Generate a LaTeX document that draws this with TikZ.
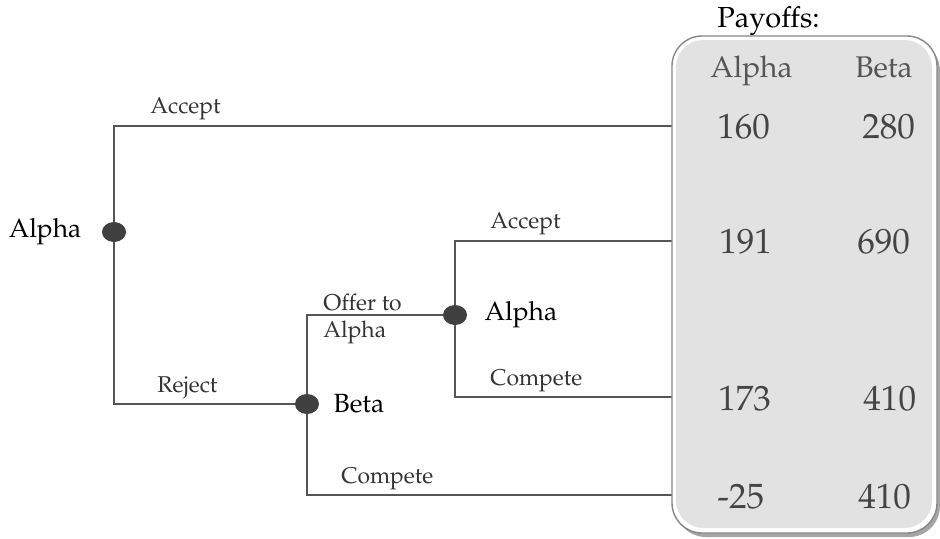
\documentclass[tikz,border=0pt]{standalone}
\usepackage[T1]{fontenc}
\renewcommand{\rmdefault}{ppl}
\usetikzlibrary{shapes.geometric, positioning, backgrounds}
\definecolor{nodegray}{RGB}{64,64,64}
\definecolor{linegray}{RGB}{85,85,85}
\definecolor{boxfill}{RGB}{226,226,226}
\definecolor{boxedge}{RGB}{135,135,135}
\definecolor{numgray}{RGB}{68,68,68}
\definecolor{headgray}{RGB}{85,85,85}

\begin{document}
\begin{tikzpicture}[
    x=0.02cm, y=-0.02cm,
    decision/.style={ellipse, fill=nodegray, inner sep=0pt,
        minimum width=0.48cm, minimum height=0.4cm},
    branch/.style={draw=linegray, line width=0.8pt},
    player/.style={inner sep=0pt, font=\fontsize{15}{17}\selectfont},
    move/.style={inner sep=0pt, anchor=base west, text=black!80,
        font=\fontsize{13}{15}\selectfont},
    colhead/.style={inner sep=0pt, anchor=base west, text=headgray,
        font=\fontsize{17}{20}\selectfont},
    payoff/.style={inner sep=0pt, anchor=base west, text=numgray,
        font=\fontsize{20}{23}\selectfont},
]
\useasboundingbox (0,0) rectangle (940,538);

% === PAYOFF PANEL ===
\fill[black!35, rounded corners=0.62cm] (675,40) rectangle (940,537);
\draw[boxedge, fill=white, line width=0.8pt, rounded corners=0.6cm]
    (672,36) rectangle (937,533);
\fill[boxfill, rounded corners=0.55cm] (676,40) rectangle (932,528);

\node[inner sep=0pt, anchor=base west, font=\fontsize{16.5}{19}\selectfont]
    (payofftitle) at (717,27) {Payoffs:};
\node[colhead] (headalpha) at (710,77) {Alpha};
\node[colhead] (headbeta) at (855,77) {Beta};

\node[payoff] (a1) at (717,138) {160};
\node[payoff] (b1) at (862,138) {280};
\node[payoff] (a2) at (719,253) {191};
\node[payoff] (b2) at (857,253) {690};
\node[payoff] (a3) at (718,410) {173};
\node[payoff] (b3) at (863,410) {410};
\node[payoff] (a4) at (717,508) {-25};
\node[payoff] (b4) at (858,508) {410};

% leaf ends on the panel edge
\coordinate (end1) at (672,126);
\coordinate (end2) at (672,241);
\coordinate (end3) at (672,397);
\coordinate (end4) at (672,495);

% === DECISION NODES ===
\node[decision] (root) at (114,232) {};
\node[decision] (beta) at (307,404) {};
\node[decision] (alpha2) at (455,315) {};

\node[player, left=0.4cm of root] (rootlabel) {Alpha};
\node[player, right=0.28cm of beta] (betalabel) {Beta};
\node[player, right=0.34cm of alpha2] (alpha2label) {Alpha};

% === BRANCHES ===
\begin{scope}[on background layer]
\draw[branch] (root) |- (end1);
\draw[branch] (root) |- (beta);
\draw[branch] (beta) |- (alpha2);
\draw[branch] (beta) |- (end4);
\draw[branch] (alpha2) |- (end2);
\draw[branch] (alpha2) |- (end3);
\end{scope}

% move labels
\node[move] (accept1) at (150,113) {Accept};
\node[move] (reject) at (157,392) {Reject};
\node[move] (offer) at (323,310) {Offer to};
\node[move] (offer2) at (323,337) {Alpha};
\node[move] (accept2) at (490,228) {Accept};
\node[move] (compete1) at (490,385) {Compete};
\node[move] (compete2) at (341,483) {Compete};

\end{tikzpicture}
\end{document}
